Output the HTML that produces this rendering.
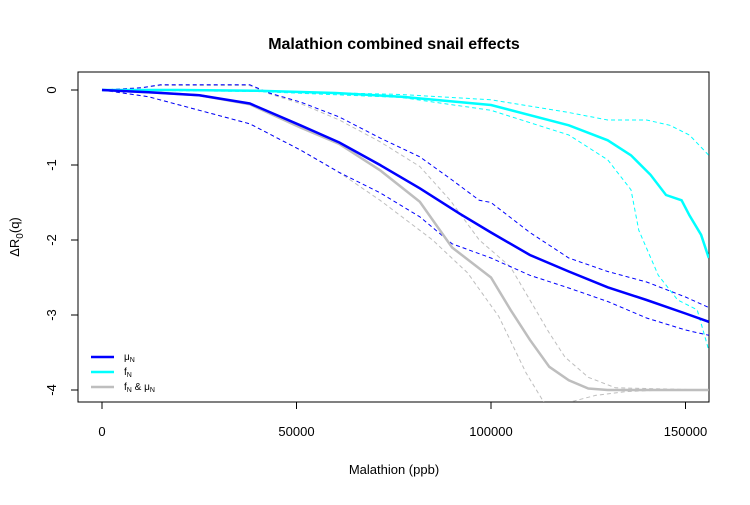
<!DOCTYPE html>
<html><head><meta charset="utf-8"><style>
body{margin:0;background:#fff;}
svg text{font-family:"Liberation Sans",sans-serif;}
</style></head><body>
<svg id="chart" width="750" height="500" viewBox="0 0 750 500" xmlns="http://www.w3.org/2000/svg">
<rect width="750" height="500" fill="#fff"/>
<text x="394" y="49" text-anchor="middle" font-size="16" font-weight="bold">Malathion combined snail effects</text>
<text x="394" y="474" text-anchor="middle" font-size="13">Malathion (ppb)</text>
<text transform="translate(19,237) rotate(-90)" text-anchor="middle" font-size="13">ΔR<tspan font-size="10" dy="4">0</tspan><tspan dy="-4">(q)</tspan></text>
<rect x="78" y="72" width="631" height="330" fill="none" stroke="#000" stroke-width="1"/>
<g id="axes"></g>
<g id="series"></g>
<g>
<line x1="91" y1="357" x2="114" y2="357" stroke="#0000ff" stroke-width="2.5"/>
<text x="124" y="360" font-size="10">μ<tspan font-size="7" dy="2">N</tspan></text>
<line x1="91" y1="372" x2="114" y2="372" stroke="#00ffff" stroke-width="2.5"/>
<text x="124" y="375" font-size="10">f<tspan font-size="7" dy="2">N</tspan></text>
<line x1="91" y1="387" x2="114" y2="387" stroke="#bebebe" stroke-width="2.5"/>
<text x="124" y="390" font-size="10">f<tspan font-size="7" dy="2">N</tspan><tspan dy="-2"> &amp; μ</tspan><tspan font-size="7" dy="2">N</tspan></text>
</g>
</svg>
<script>
const xTicks=[0,50000,100000,150000];
const xTickLabels=["0","50000","100000","150000"];
const yTicks=[0,-1,-2,-3,-4];
const yTickLabels=["0","-1","-2","-3","-4"];
// x in thousands of ppb
const blueX=[0,12,25,38,51,61,71.5,81.7,92,100,110,120,130,140,150,156];
const blueMain=[0,-0.03,-0.07,-0.18,-0.47,-0.7,-1.0,-1.31,-1.65,-1.9,-2.2,-2.42,-2.63,-2.8,-2.98,-3.09];
const blueUpX=[0,10,15,38,43,51,61,71.5,81.7,90,97,100,110,120,130,140,150,156];
const blueUp=[0,0.03,0.07,0.07,-0.04,-0.16,-0.36,-0.64,-0.89,-1.2,-1.47,-1.5,-1.9,-2.24,-2.42,-2.56,-2.76,-2.9];
const blueLoX=[0,12,25,38,51,61,71.5,81.7,90,100,110,120,130,140,150,156];
const blueLo=[0,-0.09,-0.27,-0.45,-0.8,-1.1,-1.37,-1.69,-2.05,-2.24,-2.47,-2.64,-2.82,-3.04,-3.2,-3.27];
const grayX=[0,12,25,38,51,61,71.5,81.7,90,100,105,110,115,120,125,130,156];
const grayMain=[0,-0.03,-0.07,-0.19,-0.5,-0.72,-1.07,-1.49,-2.1,-2.5,-2.93,-3.33,-3.69,-3.87,-3.98,-4,-4];
const grayUpX=[0,10,15,38,43,51,61,71.5,81.7,89.5,97,105,110,115,119,125,132,156];
const grayUp=[0,0.03,0.06,0.06,-0.05,-0.18,-0.4,-0.69,-1.02,-1.47,-2.0,-2.36,-2.8,-3.24,-3.56,-3.83,-3.97,-4];
const grayLoX=[0,12,25,38,51,61,71.5,81.7,85,94,102,109,114];
const grayLo=[0,-0.09,-0.27,-0.45,-0.8,-1.1,-1.47,-1.87,-2.0,-2.44,-3.02,-3.77,-4.2];
const grayLo2X=[121,127,135,145,156];
const grayLo2=[-4.15,-4.07,-4.02,-4,-4];
const cyanX=[0,20,40,60,77,100,120,130,136,141,145,149,151,154,156];
const cyanMain=[0,0,-0.01,-0.04,-0.09,-0.2,-0.47,-0.67,-0.87,-1.13,-1.4,-1.47,-1.67,-1.93,-2.24];
const cyanUpX=[0,40,77,100,120,130,140,146,151,156];
const cyanUp=[0,-0.01,-0.06,-0.13,-0.3,-0.4,-0.4,-0.47,-0.6,-0.87];
const cyanLoX=[0,40,77,100,120,130,136,138,143,148,153,156];
const cyanLo=[0,-0.02,-0.1,-0.27,-0.6,-0.93,-1.33,-1.87,-2.47,-2.8,-2.93,-3.47];

const NS="http://www.w3.org/2000/svg";
function sx(v){return 102+v/50000*194.5;}
function sxk(k){return sx(k*1000);}
function sy(v){return 90-v*75;}
const axes=document.getElementById('axes');
const ser=document.getElementById('series');
function mk(tag,attrs,parent){const e=document.createElementNS(NS,tag);for(const k in attrs)e.setAttribute(k,attrs[k]);parent.appendChild(e);return e;}
const xl=mk('line',{x1:sx(xTicks[0]),x2:sx(xTicks[xTicks.length-1]),y1:402,y2:402,stroke:'#000'},axes);


xTicks.forEach((t,i)=>{
  const l=mk('line',{x1:sx(t),x2:sx(t),y1:402,y2:409,stroke:'#000'},axes);
  
  
  const tx=mk('text',{x:sx(t),y:436,'text-anchor':'middle','font-size':'13'},axes);
  tx.textContent=xTickLabels[i];
  
  
});
const yl=mk('line',{x1:78,x2:78,y1:sy(yTicks[0]),y2:sy(yTicks[yTicks.length-1]),stroke:'#000'},axes);


yTicks.forEach((t,i)=>{
  const l=mk('line',{x1:71,x2:78,y1:sy(t),y2:sy(t),stroke:'#000'},axes);
  
  
  const tx=mk('text',{transform:`translate(56,${sy(t)}) rotate(-90)`,'text-anchor':'middle','font-size':'13'},axes);
  tx.textContent=yTickLabels[i];
  
  
});
function line(xs,ys,color,w,dash,name){
  const d=xs.map((x,i)=>(i?'L':'M')+sxk(x).toFixed(1)+','+sy(ys[i]).toFixed(1)).join('');
  const p=mk('path',{d:d,fill:'none',stroke:color,'stroke-width':w},ser);
  if(dash)p.setAttribute('stroke-dasharray',dash);
  
  
}
const clip=mk('clipPath',{id:'pc'},document.getElementById('chart'));
mk('rect',{x:78,y:72,width:631,height:330},clip);
ser.setAttribute('clip-path','url(#pc)');
line(grayUpX,grayUp,'#bebebe',1,'4,3','gray-upper-dashed');
line(grayLoX,grayLo,'#bebebe',1,'4,3','gray-lower-dashed');
line(grayLo2X,grayLo2,'#bebebe',1,'4,3','gray-lower-dashed-tail');
line(blueUpX,blueUp,'#0000ff',1,'4,3','blue-upper-dashed');
line(blueLoX,blueLo,'#0000ff',1,'4,3','blue-lower-dashed');
line(cyanUpX,cyanUp,'#00ffff',1,'4,3','cyan-upper-dashed');
line(cyanLoX,cyanLo,'#00ffff',1,'4,3','cyan-lower-dashed');
line(grayX,grayMain,'#bebebe',2.5,null,'gray-main-line');
line(cyanX,cyanMain,'#00ffff',2.5,null,'cyan-main-line');
line(blueX,blueMain,'#0000ff',2.5,null,'blue-main-line');
</script>
</body></html>
